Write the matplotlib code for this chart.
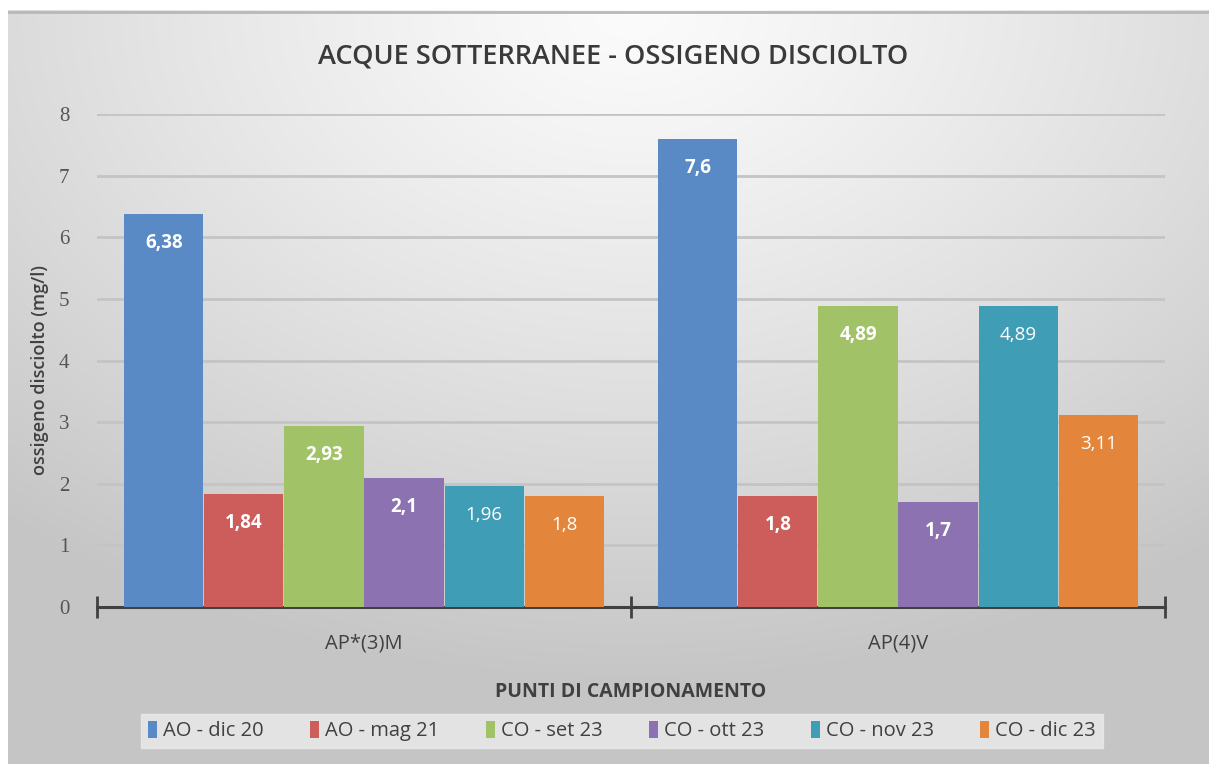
import numpy as np
import matplotlib
matplotlib.use("Agg")
import matplotlib.pyplot as plt

categories = ["AP*(3)M", "AP(4)V"]
series_names = ["AO - dic 20", "AO - mag 21", "CO - set 23", "CO - ott 23", "CO - nov 23", "CO - dic 23"]
values = {
    "AO - dic 20": [6.38, 7.6],
    "AO - mag 21": [1.84, 1.8],
    "CO - set 23": [2.93, 4.89],
    "CO - ott 23": [2.1, 1.7],
    "CO - nov 23": [1.96, 4.89],
    "CO - dic 23": [1.8, 3.11],
}
label_text = {
    "AO - dic 20": ["6,38", "7,6"],
    "AO - mag 21": ["1,84", "1,8"],
    "CO - set 23": ["2,93", "4,89"],
    "CO - ott 23": ["2,1", "1,7"],
    "CO - nov 23": ["1,96", "4,89"],
    "CO - dic 23": ["1,8", "3,11"],
}
colors = ["#5a8ac6", "#cc5d5b", "#a1c267", "#8d72b1", "#3f9db6", "#e3863b"]
bold = [True, True, True, True, False, False]

title = "ACQUE SOTTERRANEE - OSSIGENO DISCIOLTO"
ylabel = "ossigeno disciolto (mg/l)"
xlabel = "PUNTI DI CAMPIONAMENTO"
yticks = [0, 1, 2, 3, 4, 5, 6, 7, 8]

W, H = 1209, 764
fig = plt.figure(figsize=(W / 100, H / 100), dpi=100)
fig.patch.set_facecolor("white")

# background gradient
bg = fig.add_axes([8 / W, 0, 1 - 8 / W, 1 - 10 / H])
bg.set_axis_off()
yy, xx = np.mgrid[0:1:300j, 0:1:500j]
d = np.sqrt(((xx - 0.52) * 1.0) ** 2 + ((yy - 0.0) * 0.9) ** 2)
g = 0.985 - 0.21 * np.clip(d / 0.8, 0, 1) ** 1.2
img = np.dstack([g, g, g])
bg.imshow(img, extent=[0, 1, 0, 1], origin="upper", aspect="auto", interpolation="bilinear")
bg.set_xlim(0, 1)
bg.set_ylim(0, 1)
bg.plot([0, 1], [0.997, 0.997], color="#b8b8b8", lw=2)

font_main = ["Open Sans", "DejaVu Sans"]
font_serif = ["Liberation Serif", "DejaVu Serif"]

left, right = 97 / W, 1165 / W
bottom, top = (H - 607) / H, (H - 114) / H
ax = fig.add_axes([left, bottom, right - left, top - bottom])
ax.patch.set_alpha(0)
ax.set_xlim(0, 2)
ax.set_ylim(0, 8)

x = np.arange(len(categories)) + 0.5
group_w = 0.9
bw = group_w / len(series_names)
for i, (name, c) in enumerate(zip(series_names, colors)):
    pos = x - group_w / 2 + bw * (i + 0.5)
    ax.bar(pos, values[name], width=bw * 0.99, color=c, zorder=3, label=name)
    for xp, v, t in zip(pos, values[name], label_text[name]):
        ax.annotate(t, (xp, v), xytext=(0, -29), textcoords="offset pixels",
                    ha="center", va="center", color="white", fontsize=13.5,
                    fontweight="bold" if bold[i] else "normal", family=font_main, zorder=4)

ax.set_yticks(yticks)
ax.set_yticklabels([str(t) for t in yticks], family=font_serif, fontsize=15, color="#555555")
ax.tick_params(axis="y", length=0, pad=20)
ax.grid(axis="y", color="#c4c4c4", lw=2, zorder=0)
ax.set_axisbelow(True)
for s in ["top", "right", "left"]:
    ax.spines[s].set_visible(False)
ax.spines["bottom"].set_color("#404040")
ax.spines["bottom"].set_linewidth(2.2)
ax.set_xticks([0, 1, 2])
ax.set_xticklabels(["", "", ""])
ax.tick_params(axis="x", length=16, width=2, color="#404040", direction="inout")
for xc, cat in zip(x, categories):
    ax.text(xc, -0.6, cat, ha="center", va="center", fontsize=14.5, color="#404040", family=font_main)

fig.text(40 / W, 1 - 370 / H, ylabel, rotation=90, ha="center", va="center", fontsize=13,
         color="#404040", family=font_main, fontweight="semibold")
fig.text(613 / W, 1 - 57 / H, title, ha="center", va="center", fontsize=19.5, color="#3a3a3a",
         family=font_main, fontweight="semibold")
fig.text(631 / W, 1 - 692 / H, xlabel, ha="center", va="center", fontsize=14, color="#404040",
         family=font_main, fontweight="bold")

leg = fig.legend(loc="center", bbox_to_anchor=(622 / W, 1 - 731 / H), ncol=6, frameon=True,
                 prop={"family": font_main, "size": 14.5}, handlelength=0.45, handleheight=0.9,
                 handletextpad=0.3, columnspacing=2.3, borderpad=0.35, fancybox=False)
leg.get_frame().set_facecolor("#ebebeb")
leg.get_frame().set_edgecolor("#ebebeb")
for t in leg.get_texts():
    t.set_color("#404040")

fig.savefig("out.png", dpi=100, facecolor=fig.get_facecolor())
